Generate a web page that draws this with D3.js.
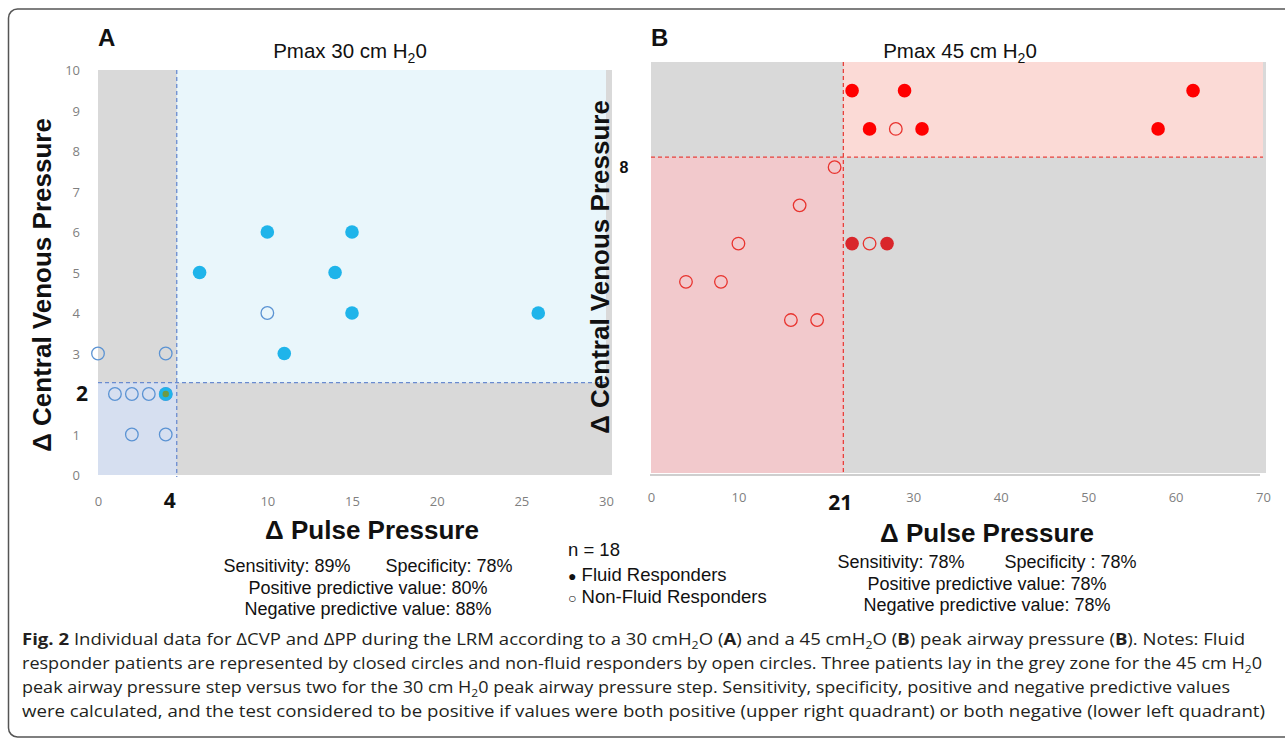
<!DOCTYPE html>
<html>
<head>
<meta charset="utf-8">
<script src="https://cdn.jsdelivr.net/npm/d3@7"></script>
<style>
  html, body { margin: 0; padding: 0; background: #ffffff; }
  svg { display: block; }
</style>
</head>
<body>
<svg id="chart" width="1285" height="741"></svg>
<script>
// ---------------- DATA ----------------
// Panel A (Pmax 30 cm H2O): [ΔPP, ΔCVP]
const respondersA = [[6,5],[10,6],[15,6],[14,5],[15,4],[26,4],[11,3],[4,2]];
const nonRespondersA = [[10,4],[0,3],[4,3],[1,2],[2,2],[3,2],[4,2],[2,1],[4,1]];
const thresholdA = [4.65, 2.28];      // ΔPP cut, ΔCVP cut (dashed lines)
const xTicksA = [0, 10, 15, 20, 25, 30];
const yTicksA = [0, 1, 3, 4, 5, 6, 7, 8, 9, 10];
const cutLabelsA = ["4", "2"];

// Panel B (Pmax 45 cm H2O)
const respondersB = [[23,10],[29,10],[62,10],[25,9],[31,9],[58,9],[23,6],[27,6]];
const nonRespondersB = [[28,9],[21,8],[17,7],[10,6],[25,6],[4,5],[8,5],[16,4],[19,4]];
const thresholdB = [22, 8.26];
const xTicksB = [0, 10, 30, 40, 50, 60, 70];
const cutLabelsB = ["21", "8"];

const titlesPanel = ["A", "B"];
const statsA = ["Sensitivity: 89%       Specificity: 78%", "Positive predictive value: 80%", "Negative predictive value: 88%"];
const statsB = ["Sensitivity: 78%        Specificity : 78%", "Positive predictive value: 78%", "Negative predictive value: 78%"];
const legendLines = ["n = 18", "Fluid Responders", "Non-Fluid Responders"];

// ---------------- DRAW ----------------
const svg = d3.select("#chart");
const ARIAL = "'Liberation Sans', Arial, sans-serif";
const NARROW = "'Liberation Sans Narrow', 'Open Sans', sans-serif";

// outer frame
svg.append("rect").attr("x", 8.5).attr("y", 9).attr("width", 1300).attr("height", 728)
  .attr("rx", 9).attr("fill", "none").attr("stroke", "#555").attr("stroke-width", 1.5);

function panel(opt) {
  const g = svg.append("g");
  const x = opt.x, y = opt.y;
  const [x0, x1] = x.range(), [y0, y1] = y.range(); // y0 bottom, y1 top
  const cx = x(opt.threshold[0]), cy = y(opt.threshold[1]);
  g.append("rect").attr("x", x0).attr("y", y1).attr("width", (opt.greyRight || x1) - x0).attr("height", y0 - y1).attr("fill", "#d9d9d9");
  g.append("rect").attr("x", cx).attr("y", y1).attr("width", x1 - cx).attr("height", cy - y1).attr("fill", opt.urFill);
  g.append("rect").attr("x", x0).attr("y", cy).attr("width", cx - x0).attr("height", y0 - cy).attr("fill", opt.llFill);
  if (opt.axisLine) {
    g.append("line").attr("x1", x0 - 1).attr("x2", x1 - 3).attr("y1", y0 + 2).attr("y2", y0 + 2)
      .attr("stroke", "#cfcfcf").attr("stroke-width", 2);
  }
  g.append("line").attr("x1", cx).attr("x2", cx).attr("y1", y1).attr("y2", y0 + 2)
    .attr("stroke", opt.dash).attr("stroke-width", 1.3).attr("stroke-dasharray", "4,3");
  g.append("line").attr("x1", x0).attr("x2", x1).attr("y1", cy).attr("y2", cy)
    .attr("stroke", opt.dash).attr("stroke-width", 1.3).attr("stroke-dasharray", "4,3");

  const xAxis = d3.axisBottom(x).tickValues(opt.xTicks).tickSize(0).tickPadding(0).tickFormat(d3.format("d"));
  const xa = g.append("g").attr("transform", `translate(0,${opt.xTickY})`).call(xAxis);
  xa.select(".domain").remove();
  xa.selectAll("text").attr("font-family", NARROW).attr("font-size", 13).attr("fill", "#7f7f7f").attr("dy", 0);
  if (opt.yTicks) {
    const yAxis = d3.axisLeft(y).tickValues(opt.yTicks).tickSize(0).tickPadding(0).tickFormat(d3.format("d"));
    const ya = g.append("g").attr("transform", `translate(${opt.yTickX},0)`).call(yAxis);
    ya.select(".domain").remove();
    ya.selectAll("text").attr("font-family", NARROW).attr("font-size", 13).attr("fill", "#7f7f7f").attr("dy", "0.35em");
  }
  g.append("text").attr("x", cx + opt.cutXOffset).attr("y", opt.cutXLabelY).attr("text-anchor", "middle")
    .attr("font-family", opt.cutFont).attr("font-weight", "bold").attr("font-size", opt.cutXSize).attr("fill", "#111")
    .text(opt.cutLabels[0]);
  g.append("text").attr("x", opt.cutYLabelX).attr("y", y(opt.cutYValue)).attr("dy", "0.35em").attr("text-anchor", "middle")
    .attr("font-family", opt.cutYFont).attr("font-weight", "bold").attr("font-size", opt.cutYSize).attr("fill", "#111")
    .text(opt.cutLabels[1]);

  const r = 6.8;
  g.selectAll(".open").data(opt.non).join("circle")
    .attr("cx", d => x(d[0])).attr("cy", d => y(d[1])).attr("r", r - 0.5)
    .attr("fill", "none").attr("stroke", opt.openStroke).attr("stroke-width", 1.3);
  g.selectAll(".fill").data(opt.resp).join("circle")
    .attr("cx", d => x(d[0])).attr("cy", d => y(d[1])).attr("r", r)
    .attr("fill", d => (d[0] >= opt.threshold[0] && d[1] < opt.threshold[1]) ? opt.fillGrey : opt.fill);
  const overlap = opt.resp.filter(p => opt.non.some(q => q[0] === p[0] && q[1] === p[1]));
  g.selectAll(".ov").data(overlap).join("circle")
    .attr("cx", d => x(d[0])).attr("cy", d => y(d[1])).attr("r", 3.2).attr("fill", "#6f9a45");

  g.append("text").attr("x", x0).attr("y", 46).attr("font-family", ARIAL).attr("font-weight", "bold")
    .attr("font-size", 24).attr("fill", "#111").text(opt.letter);
  const t = g.append("text").attr("x", opt.titleX).attr("y", 58).attr("text-anchor", "middle")
    .attr("font-family", ARIAL).attr("font-size", 20.5).attr("fill", "#111");
  t.append("tspan").text(opt.title);
  t.append("tspan").attr("font-size", 14).attr("dy", 5).text("2");
  t.append("tspan").attr("dy", -5).text("0");

  g.append("text").attr("transform", `translate(${opt.yTitleX},${opt.yTitleY}) rotate(-90)`)
    .attr("text-anchor", "middle").attr("font-family", ARIAL).attr("font-weight", "bold")
    .attr("font-size", 26).attr("fill", "#111").text("\u0394 Central Venous Pressure");
  g.append("text").attr("x", opt.xTitleX).attr("y", opt.xTitleY).attr("text-anchor", "middle")
    .attr("font-family", ARIAL).attr("font-weight", "bold").attr("font-size", 26).attr("fill", "#111")
    .text("\u0394 Pulse Pressure");

  g.selectAll(".stat").data(opt.stats).join("text")
    .attr("x", opt.statsX).attr("y", (d, i) => opt.statsY + i * 21.5).attr("text-anchor", "middle")
    .attr("font-family", ARIAL).attr("font-size", 18).attr("fill", "#111")
    .style("white-space", "pre").text(d => d);
}

panel({
  x: d3.scaleLinear().domain([0, 30]).range([98, 606]),
  y: d3.scaleLinear().domain([0, 10]).range([475, 70]),
  greyRight: 612,
  threshold: thresholdA, resp: respondersA, non: nonRespondersA,
  urFill: "#e9f6fb", llFill: "#d6dff0", dash: "#6a8bd0",
  fill: "#1fb4ea", fillGrey: "#1fb4ea", openStroke: "#5b93d3",
  xTicks: xTicksA, yTicks: yTicksA, xTickY: 506, yTickX: 80,
  cutLabels: cutLabelsA, cutXOffset: -7, cutXLabelY: 508, cutXSize: 21, cutFont: NARROW,
  cutYLabelX: 82, cutYValue: 2, cutYSize: 21, cutYFont: NARROW,
  letter: titlesPanel[0], title: "Pmax 30 cm H", titleX: 350,
  yTitleX: 51, yTitleY: 285, xTitleX: 372, xTitleY: 539,
  stats: statsA, statsX: 368, statsY: 572
});

panel({
  x: d3.scaleLinear().domain([0, 70]).range([651, 1263]),
  y: d3.scaleLinear().domain([0, 10.75]).range([473, 62]),
  greyRight: 1266,
  threshold: thresholdB, resp: respondersB, non: nonRespondersB,
  urFill: "#fbdad6", llFill: "#f2c9cc", dash: "#e8413c",
  fill: "#ff0000", fillGrey: "#d9262b", openStroke: "#e8332e",
  xTicks: xTicksB, yTicks: null, xTickY: 502, yTickX: 0, axisLine: true,
  cutLabels: cutLabelsB, cutXOffset: -3, cutXLabelY: 510, cutXSize: 21, cutFont: NARROW,
  cutYLabelX: 624, cutYValue: 8, cutYSize: 16, cutYFont: ARIAL,
  letter: titlesPanel[1], title: "Pmax 45 cm H", titleX: 960,
  yTitleX: 609, yTitleY: 267, xTitleX: 987, xTitleY: 542,
  stats: statsB, statsX: 987, statsY: 568
});

// legend
const lg = svg.append("g").attr("font-family", ARIAL).attr("font-size", 18.5).attr("fill", "#111");
lg.append("text").attr("x", 568).attr("y", 556).text(legendLines[0]);
const l1 = lg.append("text").attr("x", 568).attr("y", 581);
l1.append("tspan").attr("font-size", 14).text("\u25CF");
l1.append("tspan").text(" " + legendLines[1]);
const l2 = lg.append("text").attr("x", 568).attr("y", 603);
l2.append("tspan").attr("font-size", 14).text("\u25CB");
l2.append("tspan").text(" " + legendLines[2]);

// caption
const CAP = "'Open Sans', 'Noto Sans', sans-serif";
const cap = svg.append("g").attr("font-family", CAP).attr("font-size", 16.5).attr("fill", "#231f20");
function capLine(y, width, parts) {
  const t = cap.append("text").attr("x", 22).attr("y", y).attr("textLength", width).attr("lengthAdjust", "spacingAndGlyphs");
  parts.forEach(p => {
    const s = t.append("tspan").text(p.t);
    if (p.b) s.attr("font-weight", "bold");
    if (p.sub) s.attr("font-size", 11).attr("dy", 4);
    if (p.up) s.attr("dy", -4);
  });
}
capLine(645, 1223, [
  {t: "Fig. 2", b: true}, {t: "  Individual data for \u0394CVP and \u0394PP during the LRM according to a 30 cmH"},
  {t: "2", sub: true}, {t: "O (", up: true}, {t: "A", b: true}, {t: ") and a 45 cmH"}, {t: "2", sub: true},
  {t: "O (", up: true}, {t: "B", b: true}, {t: ") peak airway pressure ("}, {t: "B", b: true}, {t: "). Notes: Fluid"}
]);
capLine(669, 1240, [
  {t: "responder patients are represented by closed circles and non-fluid responders by open circles. Three patients lay in the grey zone for the 45 cm H"},
  {t: "2", sub: true}, {t: "0", up: true}
]);
capLine(693, 1208, [
  {t: "peak airway pressure step versus two for the 30 cm H"}, {t: "2", sub: true},
  {t: "0 peak airway pressure step. Sensitivity, specificity, positive and negative predictive values", up: true}
]);
capLine(717, 1243, [
  {t: "were calculated, and the test considered to be positive if values were both positive (upper right quadrant) or both negative (lower left quadrant)"}
]);
</script>
</body>
</html>
